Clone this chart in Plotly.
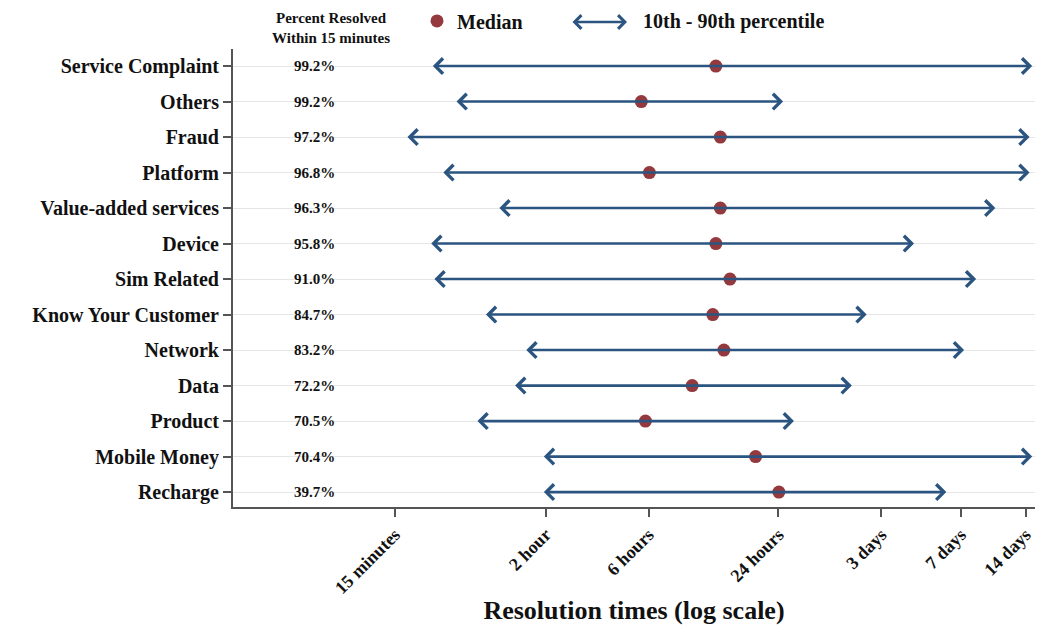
import math
import plotly.graph_objects as go

categories = ["Service Complaint", "Others", "Fraud", "Platform", "Value-added services",
              "Device", "Sim Related", "Know Your Customer", "Network", "Data",
              "Product", "Mobile Money", "Recharge"]
pct_resolved = ["99.2%", "99.2%", "97.2%", "96.8%", "96.3%", "95.8%", "91.0%",
                "84.7%", "83.2%", "72.2%", "70.5%", "70.4%", "39.7%"]
# hours
p10 = [0.59, 0.76, 0.45, 0.66, 1.2, 0.58, 0.60, 1.04, 1.6, 1.42, 0.95, 1.93, 1.93]
median = [12.3, 5.55, 12.9, 6.05, 12.9, 12.3, 14.3, 11.9, 13.4, 9.55, 5.8, 18.8, 24.1]
p90 = [360, 25.2, 350, 350, 243, 102, 198, 61.5, 174, 52.5, 28.3, 360, 144]

tick_vals = [0.4, 2, 6, 24, 72, 168, 336]
tick_text = ["15 minutes", "2 hour", "6 hours", "24 hours", "3 days", "7 days", "14 days"]

FONT = "Liberation Serif"
ARROW = "#2b5580"
DOT = "#943a3e"
AX = "#555555"

n = len(categories)
ypos = [n - 1 - i for i in range(n)]

fig = go.Figure()

annotations = []
for i in range(n):
    annotations.append(dict(
        x=math.log10(p90[i]), y=ypos[i], xref="x", yref="y",
        ax=math.log10(p10[i]), ay=ypos[i], axref="x", ayref="y",
        text="", showarrow=True, arrowside="end+start", arrowhead=4,
        arrowsize=1.15, arrowwidth=2.6, arrowcolor=ARROW, standoff=0, startstandoff=0))
    annotations.append(dict(
        x=0.101, y=ypos[i], xref="paper", yref="y", text="<b>" + pct_resolved[i] + "</b>",
        showarrow=False, font=dict(family=FONT, size=15, color="#111"),
        xanchor="center", yanchor="middle"))

fig.add_trace(go.Scatter(
    x=median, y=ypos, mode="markers", name="<b>Median</b>",
    marker=dict(color=DOT, size=13, line=dict(width=0)),
    showlegend=True))

# header
annotations.append(dict(x=(331 - 233) / 802, y=1.0, xref="paper", yref="paper",
                        text="<b>Percent Resolved<br>Within 15 minutes</b>", showarrow=False,
                        font=dict(family=FONT, size=15, color="#111"), xanchor="center",
                        yanchor="bottom", yshift=1))
# arrow legend
annotations.append(dict(x=(627 - 233) / 802, y=1.059, xref="paper", yref="paper",
                        ax=-56, ay=0, axref="pixel", ayref="pixel", text="", showarrow=True,
                        arrowside="end+start", arrowhead=4, arrowsize=1.1, arrowwidth=2.4,
                        arrowcolor=ARROW, standoff=0, startstandoff=0))
annotations.append(dict(x=(641 - 233) / 802, y=1.059, xref="paper", yref="paper",
                        text="<b>10th - 90th percentile</b>", showarrow=False,
                        font=dict(family=FONT, size=20, color="#111"), xanchor="left",
                        yanchor="middle"))

fig.update_layout(
    width=1037, height=626,
    margin=dict(l=233, r=2, t=48, b=119),
    paper_bgcolor="white", plot_bgcolor="white",
    font=dict(family=FONT, color="#111"),
    annotations=annotations,
    legend=dict(orientation="h", x=(417 - 233) / 802, y=1.059, xanchor="left",
                yanchor="middle", font=dict(family=FONT, size=20, color="#111"),
                bgcolor="rgba(0,0,0,0)", itemwidth=30),
    xaxis=dict(type="log", range=[-1.1487, 2.5694], tickvals=tick_vals,
               ticktext=[f"<b>{t}</b>" for t in tick_text],
               tickangle=-45, ticks="outside", ticklen=8, tickwidth=1.5, tickcolor=AX,
               showline=True, linecolor=AX, linewidth=2, showgrid=False, zeroline=False,
               tickfont=dict(family=FONT, size=18, color="#111"),
               title=dict(text="<b>Resolution times (log scale)</b>", standoff=4,
                          font=dict(family=FONT, size=26, color="#111"))),
    yaxis=dict(range=[-0.42, 12.48], tickvals=ypos, ticktext=[f"<b>{c}</b>" for c in categories],
               ticks="outside", ticklen=8, tickwidth=1.5, tickcolor=AX,
               showline=True, linecolor=AX, linewidth=2, showgrid=True, gridcolor="#e6e6e6",
               gridwidth=1.2, zeroline=False,
               tickfont=dict(family=FONT, size=20, color="#111")),
)

fig.write_html("out.html")
